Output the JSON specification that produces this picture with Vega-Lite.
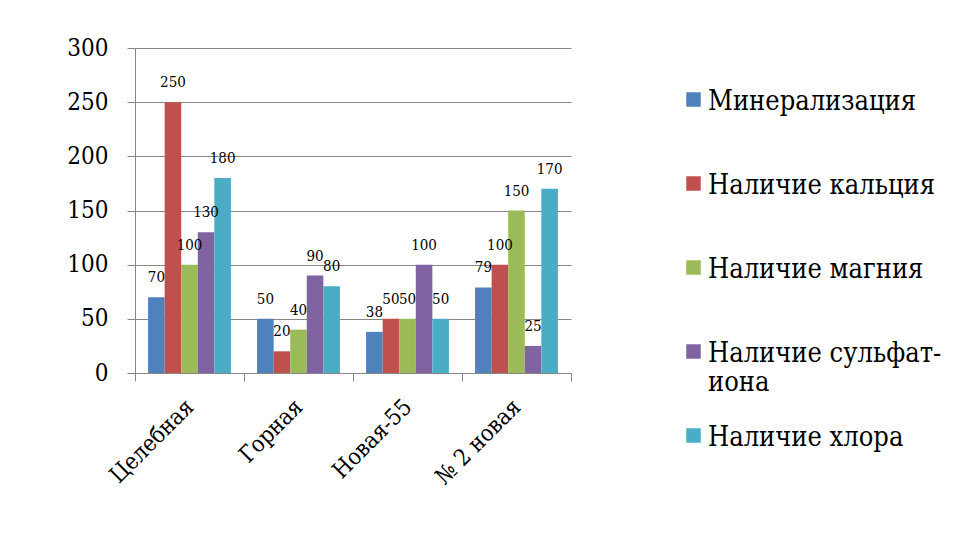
{
  "$schema": "https://vega.github.io/schema/vega-lite/v6.json",
  "width": 436,
  "height": 325,
  "autosize": {"type": "none"},
  "padding": {"left": 135, "top": 48, "right": 383, "bottom": 175},
  "background": "white",
  "config": {
    "view": {"stroke": null},
    "font": "DejaVu Serif Condensed"
  },
  "data": {
    "values": [
      {"site": "Целебная", "param": "Минерализация", "value": 70},
      {"site": "Целебная", "param": "Наличие кальция", "value": 250},
      {"site": "Целебная", "param": "Наличие магния", "value": 100},
      {"site": "Целебная", "param": "Наличие сульфат-иона", "value": 130},
      {"site": "Целебная", "param": "Наличие хлора", "value": 180},
      {"site": "Горная", "param": "Минерализация", "value": 50},
      {"site": "Горная", "param": "Наличие кальция", "value": 20},
      {"site": "Горная", "param": "Наличие магния", "value": 40},
      {"site": "Горная", "param": "Наличие сульфат-иона", "value": 90},
      {"site": "Горная", "param": "Наличие хлора", "value": 80},
      {"site": "Новая-55", "param": "Минерализация", "value": 38},
      {"site": "Новая-55", "param": "Наличие кальция", "value": 50},
      {"site": "Новая-55", "param": "Наличие магния", "value": 50},
      {"site": "Новая-55", "param": "Наличие сульфат-иона", "value": 100},
      {"site": "Новая-55", "param": "Наличие хлора", "value": 50},
      {"site": "№ 2 новая", "param": "Минерализация", "value": 79},
      {"site": "№ 2 новая", "param": "Наличие кальция", "value": 100},
      {"site": "№ 2 новая", "param": "Наличие магния", "value": 150},
      {"site": "№ 2 новая", "param": "Наличие сульфат-иона", "value": 25},
      {"site": "№ 2 новая", "param": "Наличие хлора", "value": 170}
    ]
  },
  "encoding": {
    "x": {
      "field": "site",
      "type": "nominal",
      "sort": ["Целебная", "Горная", "Новая-55", "№ 2 новая"],
      "scale": {"paddingInner": 0, "paddingOuter": 0},
      "axis": {
        "title": null,
        "tickBand": "extent",
        "tickSize": 8,
        "tickColor": "#878787",
        "domainColor": "#878787",
        "labelAngle": -45,
        "labelAlign": "right",
        "labelBaseline": "middle",
        "labelFont": "DejaVu Serif Condensed",
        "labelFontSize": 23,
        "labelColor": "#000000",
        "labelPadding": 22,
        "labelLimit": 300
      }
    },
    "xOffset": {
      "field": "param",
      "type": "nominal",
      "sort": ["Минерализация", "Наличие кальция", "Наличие магния", "Наличие сульфат-иона", "Наличие хлора"],
      "scale": {"paddingInner": 0, "paddingOuter": 0.79}
    },
    "y": {
      "field": "value",
      "type": "quantitative",
      "scale": {"domain": [0, 300], "nice": false},
      "axis": {
        "title": null,
        "values": [0, 50, 100, 150, 200, 250, 300],
        "grid": true,
        "gridColor": "#878787",
        "gridOpacity": 1,
        "tickSize": 8,
        "tickColor": "#878787",
        "domainColor": "#878787",
        "labelFont": "DejaVu Serif Condensed",
        "labelFontSize": 24,
        "labelColor": "#000000",
        "labelPadding": 19
      }
    }
  },
  "layer": [
    {
      "mark": {"type": "bar"},
      "encoding": {
        "color": {
          "field": "param",
          "type": "nominal",
          "sort": ["Минерализация", "Наличие кальция", "Наличие магния", "Наличие сульфат-иона", "Наличие хлора"],
          "scale": {"range": ["#4F81BD", "#C0504D", "#9BBB59", "#8064A2", "#4BACC6"]},
          "legend": {
            "title": null,
            "orient": "none",
            "legendX": 545,
            "legendY": 48,
            "gridAlign": "all",
            "rowPadding": 27,
            "symbolType": "M-1,-2.38H1V-0.38H-1Z",
            "symbolSize": 210,
            "symbolStrokeWidth": 0,
            "labelFont": "DejaVu Serif Condensed",
            "labelFontSize": 27,
            "labelColor": "#000000",
            "labelBaseline": "alphabetic",
            "labelOffset": 1,
            "labelLimit": 400,
            "labelExpr": "datum.label == 'Наличие сульфат-иона' ? ['Наличие сульфат-', 'иона'] : datum.label"
          }
        }
      }
    },
    {
      "mark": {
        "type": "text",
        "baseline": "alphabetic",
        "dy": -15,
        "font": "DejaVu Serif Condensed",
        "fontSize": 15,
        "color": "#000000"
      },
      "encoding": {
        "text": {"field": "value", "type": "quantitative"}
      }
    }
  ]
}
